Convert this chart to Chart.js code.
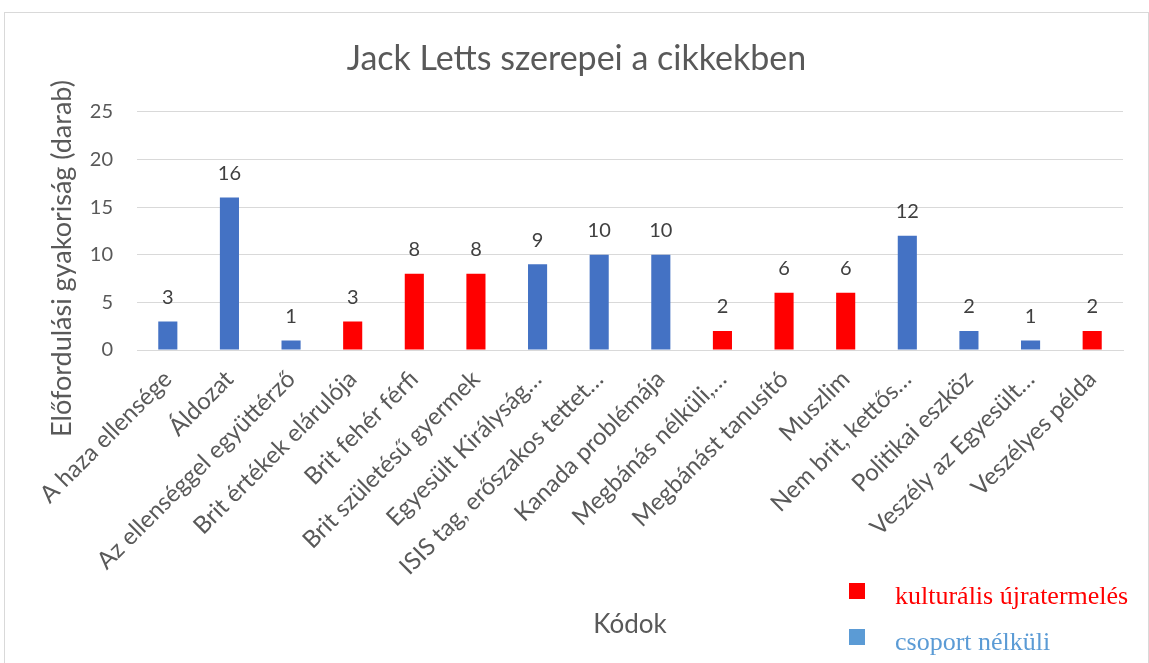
<!DOCTYPE html>
<html>
<head>
<meta charset="utf-8">
<script src="https://cdn.jsdelivr.net/npm/chart.js@4.4.1/dist/chart.umd.min.js"></script>
<style>
  html, body { margin: 0; padding: 0; background: #fff; }
  #box {
    position: absolute; left: 4px; top: 12px;
    width: 1143px; height: 651px;
    border: 1px solid #d9d9d9; border-bottom: none;
  }
  canvas { display: block; }
</style>
</head>
<body>
<div id="box"><canvas id="kodChart" width="1143" height="651"></canvas></div>
<script>
// adatok
const categories = [
    'A haza ellensége', 'Áldozat', 'Az ellenséggel együttérző', 'Brit értékek elárulója',
    'Brit fehér férfi', 'Brit születésű gyermek', 'Egyesült Királyság…', 'ISIS tag, erőszakos tettet…',
    'Kanada problémája', 'Megbánás nélküli,…', 'Megbánást tanusító', 'Muszlim',
    'Nem brit, kettős…', 'Politikai eszköz', 'Veszély az Egyesült…', 'Veszélyes példa'
];
const counts = [3, 16, 1, 3, 8, 8, 9, 10, 10, 2, 6, 6, 12, 2, 1, 2];
// 'k' = kulturális újratermelés, 'c' = csoport nélküli
const groupOf = ['c', 'c', 'c', 'k', 'k', 'k', 'c', 'c', 'c', 'k', 'k', 'k', 'c', 'c', 'c', 'k'];
const yTicks = [0, 5, 10, 15, 20, 25];

const groupNames = { k: 'kulturális újratermelés', c: 'csoport nélküli' };
const barColors = { k: '#FF0000', c: '#4472C4' };
const legendColors = { k: '#FF0000', c: '#5B9BD5' };

const FONT = 'Lato, "Open Sans", sans-serif';
const GRAY = '#595959';

// értékcímkék az oszlopok fölött
const valueLabels = {
    id: 'valueLabels',
    afterDatasetsDraw(chart) {
        const ctx = chart.ctx;
        ctx.save();
        ctx.font = '20px ' + FONT;
        ctx.fillStyle = '#404040';
        ctx.textAlign = 'center';
        ctx.textBaseline = 'middle';
        chart.data.datasets.forEach((ds, i) => {
            chart.getDatasetMeta(i).data.forEach((bar, j) => {
                if (ds.data[j] == null) return;
                ctx.fillText(ds.data[j], bar.x, bar.y - 24);
            });
        });
        ctx.restore();
    }
};

// jelmagyarázat jobbra lent
const boxLegend = {
    id: 'boxLegend',
    afterDraw(chart) {
        const ctx = chart.ctx;
        ctx.save();
        ctx.font = '26px "Liberation Serif", "Times New Roman", serif';
        ctx.textBaseline = 'alphabetic';
        ctx.textAlign = 'left';
        chart.data.datasets.forEach((ds, i) => {
            const y = 570 + i * 46;
            ctx.fillStyle = ds.legendColor;
            ctx.fillRect(844, y, 16, 16);
            ctx.fillText(ds.label, 890, y + 21);
        });
        ctx.restore();
    }
};

const datasets = ['k', 'c'].map(g => ({
    label: groupNames[g],
    data: counts.map((v, i) => groupOf[i] === g ? v : null),
    backgroundColor: barColors[g],
    legendColor: legendColors[g],
    barPercentage: 0.31,
    categoryPercentage: 1.0
}));

const ctx = document.getElementById('kodChart').getContext('2d');
new Chart(ctx, {
    type: 'bar',
    data: { labels: categories, datasets: datasets },
    options: {
        responsive: false,
        animation: false,
        layout: { padding: 0 },
        plugins: {
            legend: { display: false },
            tooltip: { enabled: false },
            title: {
                display: true,
                text: 'Jack Letts szerepei a cikkekben',
                color: GRAY,
                font: { family: FONT, size: 34, weight: 'normal' },
                padding: { top: 26, bottom: 32 }
            }
        },
        scales: {
            x: {
                stacked: true,
                grid: { display: false },
                border: { display: true, color: '#d9d9d9', width: 1 },
                ticks: {
                    color: GRAY,
                    font: { family: FONT, size: 24 },
                    minRotation: 45, maxRotation: 45,
                    autoSkip: false,
                    padding: 7
                },
                title: {
                    display: true,
                    text: 'Kódok',
                    color: GRAY,
                    font: { family: FONT, size: 26 },
                    padding: { top: 10, bottom: 24 }
                },
                afterFit(scale) { scale.height = 314; }
            },
            y: {
                stacked: true,
                min: 0, max: 25,
                grid: { color: '#d9d9d9', drawTicks: false },
                border: { display: false },
                afterBuildTicks(scale) { scale.ticks = yTicks.map(v => ({ value: v })); },
                ticks: {
                    color: GRAY,
                    font: { family: FONT, size: 20 },
                    padding: 24
                },
                title: {
                    display: true,
                    // záró szóközök: a felirat lejjebb kerül, mint az eredetin
                    text: 'Előfordulási gyakoriság (darab)' + ' '.repeat(8),
                    color: GRAY,
                    font: { family: FONT, size: 27 },
                    padding: { top: 41, bottom: 10 }
                },
                afterFit(scale) { scale.width = 132; }
            },
            // üres jobb oldali sáv, hogy a cím a teljes szélességre legyen középre igazítva
            yRight: {
                position: 'right',
                grid: { display: false },
                border: { display: false },
                ticks: { display: false },
                afterFit(scale) { scale.width = 25; }
            }
        }
    },
    plugins: [valueLabels, boxLegend]
});
</script>
</body>
</html>
